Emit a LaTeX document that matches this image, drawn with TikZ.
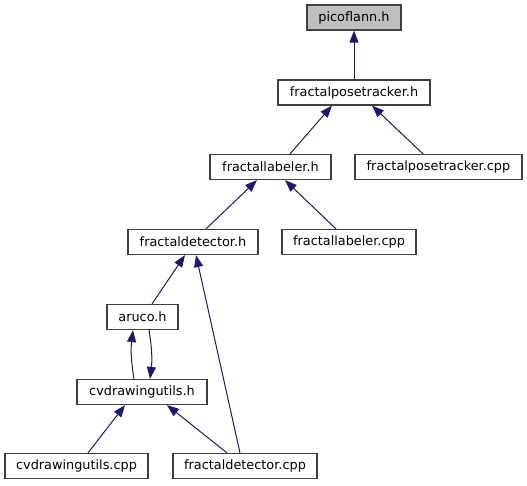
\documentclass[tikz,border=0pt]{standalone}
\usepackage{fontspec}
\setmainfont{DejaVu Sans}
\usetikzlibrary{arrows.meta}
\definecolor{edgeblue}{HTML}{191970}
\definecolor{hdrgray}{HTML}{BFBFBF}
\begin{document}
\begin{tikzpicture}[x=1pt,y=1pt,
  box/.style={draw=black!75,line width=1.2pt,fill=white,inner sep=0pt,minimum height=25pt,font=\fontsize{12.85}{15}\selectfont,text=black},
  edge/.style={draw=edgeblue,line width=1pt,-{Triangle[length=12pt,width=9pt]}}]
\useasboundingbox (0,0) rectangle (527,-485);
\node[box,fill=hdrgray,minimum width=94pt] (pico) at (354,-17.5) {picoflann.h};
\node[box,minimum width=152pt] (fpth) at (354,-92.5) {fractalposetracker.h};
\node[box,minimum width=121pt] (flh) at (270.5,-167) {fractallabeler.h};
\node[box,minimum width=167pt] (fptc) at (438.5,-167) {fractalposetracker.cpp};
\node[box,minimum width=130pt] (fdh) at (193,-242) {fractaldetector.h};
\node[box,minimum width=134pt] (flc) at (349,-242) {fractallabeler.cpp};
\node[box,minimum width=71pt] (aruco) at (142.5,-317) {aruco.h};
\node[box,minimum width=130pt] (cvdh) at (142,-392) {cvdrawingutils.h};
\node[box,minimum width=143pt] (cvdc) at (76.5,-466) {cvdrawingutils.cpp};
\node[box,minimum width=144pt] (fdc) at (245,-466) {fractaldetector.cpp};

\draw[edge] (fpth.north) -- (pico.south);
\draw[edge] ([xshift=19.5pt]flh.north) -- ([xshift=-22pt]fpth.south);
\draw[edge] ([xshift=-15.5pt]fptc.north) -- ([xshift=18pt]fpth.south);
\draw[edge] ([xshift=13pt]fdh.north) -- ([xshift=-13.5pt]flh.south);
\draw[edge] ([xshift=-13pt]flc.north) -- ([xshift=14.5pt]flh.south);
\draw[edge] ([xshift=9.5pt]aruco.north) -- ([xshift=-8pt]fdh.south);
\draw[edge] ([xshift=-5pt]fdc.north) -- ([xshift=3pt]fdh.south);
\draw[edge] ([xshift=-8pt]cvdh.north) to[bend left=8] ([xshift=-9.5pt]aruco.south);
\draw[edge] ([xshift=6.5pt]aruco.south) to[bend left=8] ([xshift=8pt]cvdh.north);
\draw[edge] ([xshift=11.5pt]cvdc.north) -- ([xshift=-17pt]cvdh.south);
\draw[edge] ([xshift=-18pt]fdc.north) -- ([xshift=25pt]cvdh.south);
\end{tikzpicture}
\end{document}
